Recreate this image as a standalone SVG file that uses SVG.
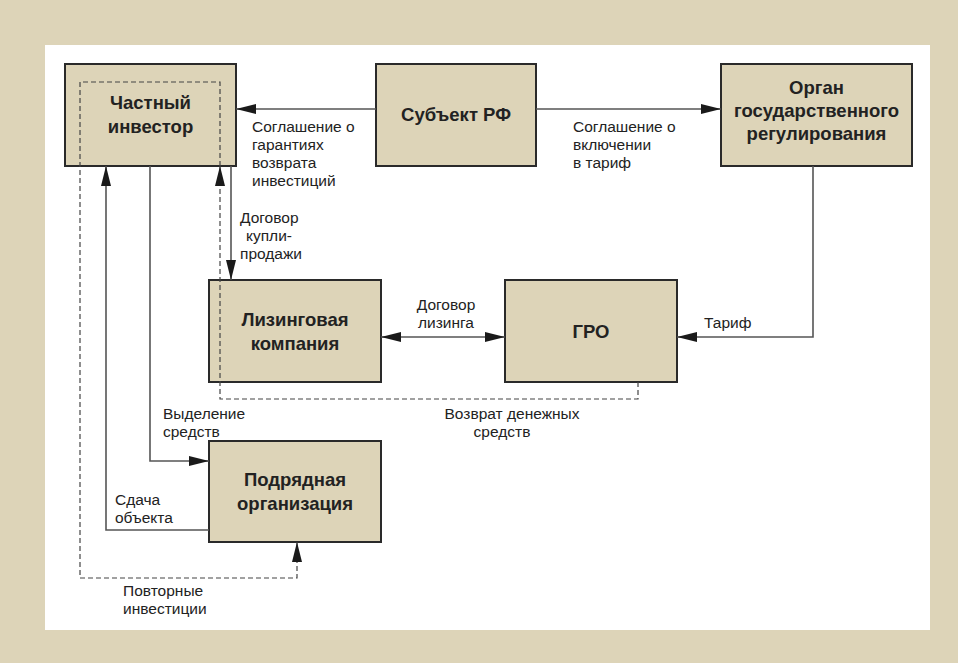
<svg xmlns="http://www.w3.org/2000/svg" width="958" height="663" viewBox="0 0 958 663">
<style>
.node rect{fill:#ddd4b8;stroke:#2a2a2a;stroke-width:2}
.nt{font-family:"Liberation Sans",Arial,sans-serif;font-weight:bold;font-size:18.5px;fill:#222;text-anchor:middle}
.lb{font-family:"Liberation Sans",Arial,sans-serif;font-size:15.5px;fill:#222}
.ln{fill:none;stroke:#555;stroke-width:1.6}
.ds{fill:none;stroke:#444;stroke-width:1.2;stroke-dasharray:5 3}
</style>
<defs>
<marker id="arr" viewBox="0 0 20 10" refX="20" refY="5" markerWidth="20" markerHeight="10" orient="auto-start-reverse" markerUnits="userSpaceOnUse"><path d="M0,0 L20,5 L0,10 z" fill="#1a1a1a"/></marker>
</defs>
<rect x="0" y="0" width="958" height="663" fill="#ddd4b8"/>
<rect x="45" y="45" width="885" height="585" fill="#ffffff"/>
<g id="n-investor" class="node"><rect x="65" y="64" width="171" height="102"/><text class="nt" x="150.5" y="109">Частный<tspan x="150.5" dy="24">инвестор</tspan></text></g>
<g id="n-subject" class="node"><rect x="376" y="64" width="160" height="102"/><text class="nt" x="456" y="121">Субъект РФ</text></g>
<g id="n-organ" class="node"><rect x="721" y="64" width="191" height="102"/><text class="nt" x="816.5" y="94">Орган<tspan x="816.5" dy="23">государственного</tspan><tspan x="816.5" dy="23">регулирования</tspan></text></g>
<g id="n-leasing" class="node"><rect x="209" y="280" width="172" height="102"/><text class="nt" x="295" y="326">Лизинговая<tspan x="295" dy="24">компания</tspan></text></g>
<g id="n-gro" class="node"><rect x="505" y="280" width="172" height="102"/><text class="nt" x="591" y="338">ГРО</text></g>
<g id="n-contractor" class="node"><rect x="209" y="441" width="172" height="101"/><text class="nt" x="295" y="486">Подрядная<tspan x="295" dy="24">организация</tspan></text></g>
<g id="connectors">
<path class="ln" d="M376,109 H236" marker-end="url(#arr)"/>
<path class="ln" d="M536,109 H721" marker-end="url(#arr)"/>
<path class="ln" d="M813,166 V337 H677" marker-end="url(#arr)"/>
<path class="ln" d="M381,337 H505" marker-start="url(#arr)" marker-end="url(#arr)"/>
<path class="ln" d="M231,166 V280" marker-end="url(#arr)"/>
<path class="ln" d="M150,166 V461 H209" marker-end="url(#arr)"/>
<path class="ln" d="M209,530 H106 V166" marker-end="url(#arr)"/>
<path class="ds" d="M638,382 V399 H220 V166" marker-end="url(#arr)"/>
<path class="ds" d="M220,166 V82 H80 V578 H297 V542" marker-end="url(#arr)"/>
<text class="lb" x="252" y="132">Соглашение о<tspan x="252" dy="18">гарантиях</tspan><tspan x="252" dy="18">возврата</tspan><tspan x="252" dy="18">инвестиций</tspan></text>
<text class="lb" x="573" y="132">Соглашение о<tspan x="573" dy="18">включении</tspan><tspan x="573" dy="18">в тариф</tspan></text>
<text class="lb" x="240" y="223">Договор<tspan x="246" dy="18">купли-</tspan><tspan x="240" dy="18">продажи</tspan></text>
<text class="lb" x="446" y="310" text-anchor="middle">Договор<tspan x="446" dy="18">лизинга</tspan></text>
<text class="lb" x="704" y="328">Тариф</text>
<text class="lb" x="512" y="419" text-anchor="middle">Возврат денежных<tspan x="502" dy="18">средств</tspan></text>
<text class="lb" x="163" y="419">Выделение<tspan x="163" dy="18">средств</tspan></text>
<text class="lb" x="115" y="505">Сдача<tspan x="115" dy="18">объекта</tspan></text>
<text class="lb" x="123" y="596">Повторные<tspan x="123" dy="18">инвестиции</tspan></text>
</g>
</svg>
